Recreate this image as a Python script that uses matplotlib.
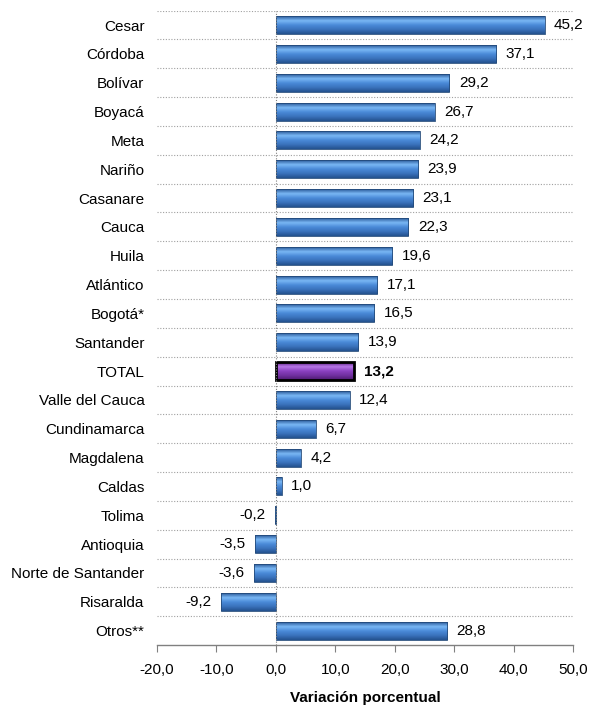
import numpy as np
import matplotlib
matplotlib.use('Agg')
import matplotlib.pyplot as plt
from matplotlib.colors import LinearSegmentedColormap

plt.rcParams['font.family'] = ['Liberation Sans', 'DejaVu Sans']

# data (top to bottom)
categories = ['Cesar', 'Córdoba', 'Bolívar', 'Boyacá', 'Meta', 'Nariño', 'Casanare',
              'Cauca', 'Huila', 'Atlántico', 'Bogotá*', 'Santander', 'TOTAL',
              'Valle del Cauca', 'Cundinamarca', 'Magdalena', 'Caldas', 'Tolima',
              'Antioquia', 'Norte de Santander', 'Risaralda', 'Otros**']
values = [45.2, 37.1, 29.2, 26.7, 24.2, 23.9, 23.1, 22.3, 19.6, 17.1, 16.5, 13.9, 13.2,
          12.4, 6.7, 4.2, 1.0, -0.2, -3.5, -3.6, -9.2, 28.8]
xticks = [-20, -10, 0, 10, 20, 30, 40, 50]


def fmt(v):
    return '{:.1f}'.format(v).replace('.', ',')


fig = plt.figure(figsize=(5.92, 7.10), dpi=100)
ax = fig.add_axes([0.265, 0.0915, 0.703, 0.8935])

n = len(categories)
ypos = np.arange(n)
bar_h = 0.62
fs = 11

blue = LinearSegmentedColormap.from_list('b', ['#2a5a9a', '#7ab8f5', '#4a8ad8', '#3a72bc', '#24528e'])
purple = LinearSegmentedColormap.from_list('p', ['#5a1d80', '#b878e8', '#8a40c0', '#7030a0', '#4e1a70'])
grad = np.linspace(0, 1, 64).reshape(-1, 1)

for y, v, c in zip(ypos, values, categories):
    total = c == 'TOTAL'
    x0, x1 = min(0, v), max(0, v)
    ax.imshow(grad, cmap=purple if total else blue, aspect='auto',
              extent=(x0, x1, y + bar_h / 2, y - bar_h / 2), zorder=2,
              interpolation='bilinear')
    ax.barh(y, v, height=bar_h, facecolor='none',
            edgecolor='black' if total else '#234a7a',
            linewidth=2.0 if total else 0.6, zorder=3)
    off = 1.6
    if v >= 0:
        ax.text(v + off, y, fmt(v), va='center', ha='left', fontsize=fs,
                fontweight='bold' if total else 'normal')
    else:
        ax.text(v - off, y, fmt(v), va='center', ha='right', fontsize=fs)

ax.set_xlim(-20, 50)
ax.set_ylim(n - 0.5, -0.5)

# dotted separators between categories
for b in np.arange(-0.5, n - 0.5, 1.0):
    ax.axhline(b, color='#a0a0a0', linestyle=(0, (1, 1.5)), linewidth=0.8, zorder=1)
ax.axvline(0, color='#808080', linestyle=(0, (1, 1.5)), linewidth=0.8, zorder=4)

ax.set_yticks(ypos)
ax.set_yticklabels(categories, fontsize=fs)
ax.tick_params(axis='y', length=0, pad=9)
ax.set_xticks(xticks)
ax.set_xticklabels([fmt(t) for t in xticks], fontsize=fs)
ax.tick_params(axis='x', length=5, color='#808080', pad=8)

for s in ['top', 'right', 'left']:
    ax.spines[s].set_visible(False)
ax.spines['bottom'].set_color('#808080')
ax.spines['bottom'].set_linewidth(1.0)

ax.set_xlabel('Variación porcentual', fontsize=fs, fontweight='bold', labelpad=10)

fig.savefig('out.png', dpi=100)
